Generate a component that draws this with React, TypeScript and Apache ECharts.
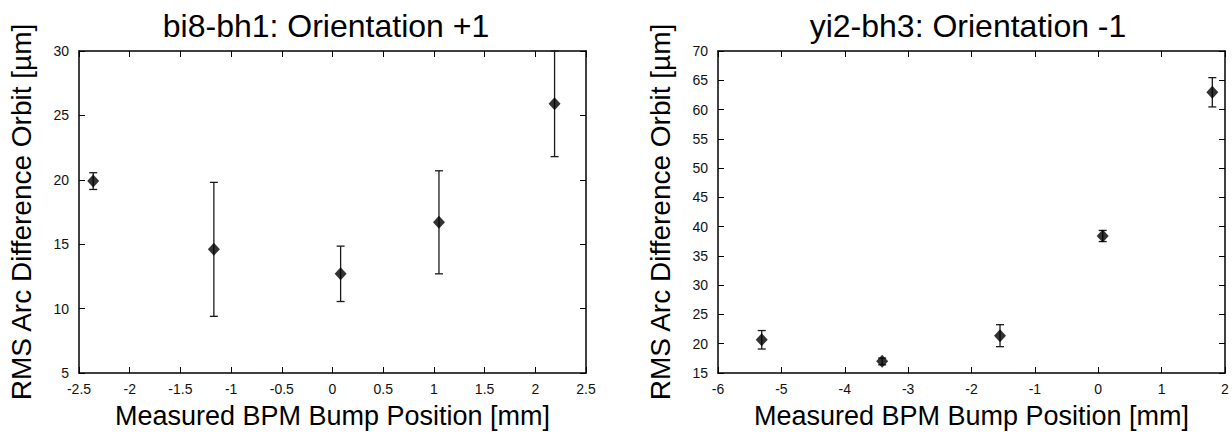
import React, { useEffect, useRef } from "react";
import * as echarts from "echarts";

const leftTitle = "bi8-bh1: Orientation +1";
const rightTitle = "yi2-bh3: Orientation -1";
const xName = "Measured BPM Bump Position [mm]";
const yName = "RMS Arc Difference Orbit [µm]";

const leftX = [-2.36, -1.17, 0.08, 1.05, 2.19];
const leftY = [19.9, 14.6, 12.7, 16.7, 25.9];
const leftLow = [19.25, 9.4, 10.55, 12.7, 21.8];
const leftHigh = [20.55, 19.8, 14.85, 20.7, 30.0];

const rightX = [-5.31, -3.41, -1.55, 0.07, 1.8];
const rightY = [20.7, 17.0, 21.35, 38.4, 62.95];
const rightLow = [19.1, 16.4, 19.5, 37.45, 60.45];
const rightHigh = [22.25, 17.55, 23.25, 39.35, 65.45];

const FONT = "Liberation Sans, Arial, Helvetica, sans-serif";

function errRender(params: any, api: any) {
  const x = api.value(0);
  const lo = api.value(1);
  const hi = api.value(2);
  const pLo = api.coord([x, lo]);
  const pHi = api.coord([x, hi]);
  const hw = 4;
  const style = { stroke: "#1a1a1a", lineWidth: 1.3 };
  return {
    type: "group",
    children: [
      { type: "line", shape: { x1: pHi[0], y1: pHi[1], x2: pLo[0], y2: pLo[1] }, style },
      { type: "line", shape: { x1: pHi[0] - hw, y1: pHi[1], x2: pHi[0] + hw, y2: pHi[1] }, style },
      { type: "line", shape: { x1: pLo[0] - hw, y1: pLo[1], x2: pLo[0] + hw, y2: pLo[1] }, style },
    ],
  };
}

function makeAxisX(grid: number, min: number, max: number, interval: number, top: boolean) {
  return {
    type: "value",
    gridIndex: grid,
    position: top ? "top" : "bottom",
    min,
    max,
    interval,
    name: top ? "" : xName,
    nameLocation: "middle",
    nameGap: 29,
    nameTextStyle: { fontSize: 27, color: "#000", fontFamily: FONT },
    axisLine: { show: true, onZero: false, lineStyle: { color: "#000", width: 1.5 } },
    axisTick: { show: true, inside: true, length: 6, lineStyle: { color: "#000", width: 1 } },
    axisLabel: { show: !top, fontSize: 14, color: "#111", margin: 9, fontFamily: FONT },
    splitLine: { show: false },
  };
}

function makeAxisY(grid: number, min: number, max: number, interval: number, right: boolean) {
  return {
    type: "value",
    gridIndex: grid,
    position: right ? "right" : "left",
    min,
    max,
    interval,
    name: right ? "" : yName,
    nameLocation: "middle",
    nameGap: 44,
    nameTextStyle: { fontSize: 28, color: "#000", fontFamily: FONT },
    axisLine: { show: true, onZero: false, lineStyle: { color: "#000", width: 1.5 } },
    axisTick: { show: true, inside: true, length: 6, lineStyle: { color: "#000", width: 1 } },
    axisLabel: { show: !right, fontSize: 14, color: "#111", margin: 10, fontFamily: FONT },
    splitLine: { show: false },
  };
}

export default function App() {
  const ref = useRef<HTMLDivElement>(null);
  useEffect(() => {
    if (!ref.current) return;
    const chart = echarts.init(ref.current, undefined, { renderer: "svg" });
    const leftPts = leftX.map((x, i) => [x, leftY[i]]);
    const rightPts = rightX.map((x, i) => [x, rightY[i]]);
    const leftErr = leftX.map((x, i) => [x, leftLow[i], leftHigh[i]]);
    const rightErr = rightX.map((x, i) => [x, rightLow[i], rightHigh[i]]);
    chart.setOption({
      animation: false,
      backgroundColor: "#fff",
      graphic: [
        {
          type: "text",
          x: 326,
          y: 10,
          style: { text: leftTitle, fontSize: 32, fontFamily: FONT, fill: "#000", align: "center", verticalAlign: "top" },
        },
        {
          type: "text",
          x: 968,
          y: 10,
          style: { text: rightTitle, fontSize: 32, fontFamily: FONT, fill: "#000", align: "center", verticalAlign: "top" },
        },
      ],
      grid: [
        { left: 79, top: 51, width: 507, height: 330 },
        { left: 718, top: 51, width: 507, height: 330 },
      ],
      xAxis: [
        makeAxisX(0, -2.5, 2.5, 0.5, false),
        makeAxisX(0, -2.5, 2.5, 0.5, true),
        makeAxisX(1, -6, 2, 1, false),
        makeAxisX(1, -6, 2, 1, true),
      ],
      yAxis: [
        makeAxisY(0, 5, 30, 5, false),
        makeAxisY(0, 5, 30, 5, true),
        makeAxisY(1, 15, 70, 5, false),
        makeAxisY(1, 15, 70, 5, true),
      ],
      series: [
        {
          type: "custom",
          xAxisIndex: 0,
          yAxisIndex: 0,
          renderItem: errRender,
          encode: { x: 0, y: [1, 2] },
          data: leftErr,
          silent: true,
        },
        {
          type: "scatter",
          xAxisIndex: 0,
          yAxisIndex: 0,
          symbol: "diamond",
          symbolSize: [12, 13],
          itemStyle: { color: "#000" },
          data: leftPts,
        },
        {
          type: "custom",
          xAxisIndex: 2,
          yAxisIndex: 2,
          renderItem: errRender,
          encode: { x: 0, y: [1, 2] },
          data: rightErr,
          silent: true,
        },
        {
          type: "scatter",
          xAxisIndex: 2,
          yAxisIndex: 2,
          symbol: "diamond",
          symbolSize: [12, 13],
          itemStyle: { color: "#000" },
          data: rightPts,
        },
      ],
    });
    return () => chart.dispose();
  }, []);
  return (
    <div
      ref={ref}
      style={{ position: "absolute", left: 0, top: 0, width: 1232, height: 434, background: "#fff" }}
    />
  );
}
